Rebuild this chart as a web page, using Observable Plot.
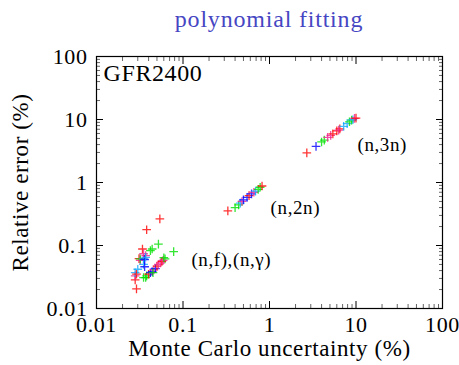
<!DOCTYPE html>
<html><head><meta charset="utf-8">
<script src="https://cdn.jsdelivr.net/npm/d3@7"></script>
<script src="https://cdn.jsdelivr.net/npm/@observablehq/plot@0.6"></script>
<style>
body{margin:0;background:#fff;}
#wrap{position:relative;width:459px;height:365px;}
#title{height:40px;box-sizing:border-box;padding-top:5px;padding-left:79px;text-align:center;font-family:"Liberation Serif","Times New Roman",serif;font-size:24px;line-height:28px;letter-spacing:0.8px;color:#4646c3;white-space:nowrap;}
</style></head><body>
<div id="wrap">
<div id="title">polynomial fitting</div>
<div id="chart"></div>
</div>
<script>
// ---- data ----
const seriesNames = ["S1", "S2", "S3", "S4", "S5"]; // red, blue, green, cyan, magenta
const pointSeries = [
  // (n,3n)
  "S1","S2","S3","S3","S5","S5","S1","S1","S1","S5","S4","S4","S3","S3","S4","S5","S1",
  // (n,2n)
  "S1","S3","S3","S4","S5","S2","S2","S1","S2","S5","S4","S3","S3","S1",
  // (n,f),(n,gamma)
  "S1","S1","S5","S4","S1","S4","S3","S3","S1","S5","S3","S4","S4","S2","S5","S1","S5","S1","S1","S3","S3","S3","S3","S3","S2","S4",
  "S3","S1","S2","S2","S5","S2","S1","S5","S5","S1","S5","S3","S3"
];
const mcUncertainty = [
  2.7,3.45,4.0,4.3,4.7,5.1,5.4,6.0,6.5,6.3,7.2,7.9,8.4,8.9,9.2,9.6,10.0,
  0.33,0.40,0.44,0.46,0.48,0.50,0.55,0.58,0.62,0.66,0.69,0.74,0.78,0.82,
  0.029,0.028,0.028,0.028,0.029,0.030,0.035,0.037,0.031,0.032,0.032,0.035,0.035,0.036,0.037,0.034,0.035,0.038,0.054,0.052,0.044,0.042,0.078,0.062,0.036,0.037,
  0.038,0.040,0.042,0.044,0.046,0.048,0.050,0.052,0.055,0.057,0.059,0.045,0.060
];
const relError = [
  2.95,3.75,4.4,4.7,5.2,5.6,5.9,6.6,7.1,6.8,7.8,8.6,9.2,9.8,9.9,10.4,10.5,
  0.355,0.40,0.44,0.47,0.50,0.53,0.58,0.62,0.66,0.70,0.73,0.78,0.84,0.88,
  0.0205,0.0285,0.033,0.037,0.035,0.042,0.031,0.031,0.062,0.058,0.0615,0.0615,0.050,0.046,0.069,0.088,0.074,0.178,0.265,0.105,0.088,0.083,0.080,0.0615,0.060,0.065,
  0.033,0.035,0.037,0.0385,0.041,0.043,0.047,0.050,0.053,0.056,0.058,0.037,0.064
];
const majorTicks = [0.01, 0.1, 1, 10, 100];
const minorTicks = [0.02,0.03,0.04,0.05,0.06,0.07,0.08,0.09,0.2,0.3,0.4,0.5,0.6,0.7,0.8,0.9,2,3,4,5,6,7,8,9,20,30,40,50,60,70,80,90];
const annotationText = ["(n,3n)", "(n,2n)", "(n,f),(n,γ)"];
const annotationX = [10.4, 1.03, 0.125];
const annotationY = [4.0, 0.40, 0.058];
const xLabel = "Monte Carlo uncertainty (%)";
const yLabel = "Relative error (%)";
const boxLabel = "GFR2400";

// ---- build ----
const points = pointSeries.map((s, i) => ({s, x: mcUncertainty[i], y: relError[i]}));
const notes = annotationText.map((t, i) => ({t, x: annotationX[i], y: annotationY[i]}));
const font = "'Liberation Serif', 'Times New Roman', serif";
const fmt = d => String(d);
const blank = () => "";

const chart = Plot.plot({
  width: 459, height: 325,
  marginLeft: 96, marginRight: 17, marginTop: 16, marginBottom: 57,
  style: {fontFamily: font, fontSize: "22px", color: "#000", background: "#fff"},
  x: {type: "log", domain: [0.01, 100]},
  y: {type: "log", domain: [0.01, 100]},
  color: {domain: seriesNames, range: ["#ff0000", "#0000ff", "#00e000", "#10a8ff", "#f0208c"]},
  marks: [
    Plot.axisX({anchor: "bottom", ticks: majorTicks, tickSize: -7, tickPadding: 15, tickFormat: fmt, label: null, fontSize: 22}),
    Plot.axisX({anchor: "bottom", ticks: minorTicks, tickSize: -4, tickFormat: blank, label: null, stroke: "#666"}),
    Plot.axisX({anchor: "top", ticks: majorTicks, tickSize: -7, tickFormat: blank, label: null}),
    Plot.axisX({anchor: "top", ticks: minorTicks, tickSize: -4, tickFormat: blank, label: null, stroke: "#666"}),
    Plot.axisY({anchor: "left", ticks: majorTicks, tickSize: -7, tickPadding: 16, tickFormat: fmt, label: null, fontSize: 22}),
    Plot.axisY({anchor: "left", ticks: minorTicks, tickSize: -4, tickFormat: blank, label: null, stroke: "#666"}),
    Plot.axisY({anchor: "right", ticks: majorTicks, tickSize: -7, tickFormat: blank, label: null}),
    Plot.axisY({anchor: "right", ticks: minorTicks, tickSize: -4, tickFormat: blank, label: null, stroke: "#666"}),
    Plot.frame({stroke: "#000", strokeWidth: 1.2}),
    Plot.dot(points, {x: "x", y: "y", stroke: "s", symbol: "plus", r: 2.9, strokeWidth: 1.3, strokeOpacity: 0.8}),
    Plot.text(notes, {x: "x", y: "y", text: "t", textAnchor: "start", fontSize: 19}),
    Plot.text([xLabel], {frameAnchor: "bottom", dy: 47, text: d => d, fontSize: 23, textAnchor: "middle"}),
    Plot.text([yLabel], {frameAnchor: "left", dx: -76, rotate: -90, text: d => d, fontSize: 23, textAnchor: "middle"}),
    Plot.text([boxLabel], {frameAnchor: "top-left", dx: 7, dy: 7, lineAnchor: "top", text: d => d, fontSize: 24, textAnchor: "start", ariaLabel: "boxlabel"})
  ]
});
document.getElementById("chart").appendChild(chart);
// letter spacing for the big labels (CM-like width)
d3.select(chart).selectAll("text").style("letter-spacing", "0.6px");
// draw the box around the GFR2400 label
const svg = d3.select(chart);
const g = svg.select('g[aria-label="boxlabel"]');
const lbl = g.select("text");
if (!lbl.empty()) {
  const bb = lbl.node().getBBox();
  const x0 = 96, y0 = 16;
  g.insert("rect", "text")
    .attr("x", x0).attr("y", y0)
    .attr("width", bb.x + bb.width + 7 - x0).attr("height", 29)
    .attr("fill", "#fff").attr("stroke", "#000").attr("stroke-width", 1.2);
}
</script>
</body></html>
